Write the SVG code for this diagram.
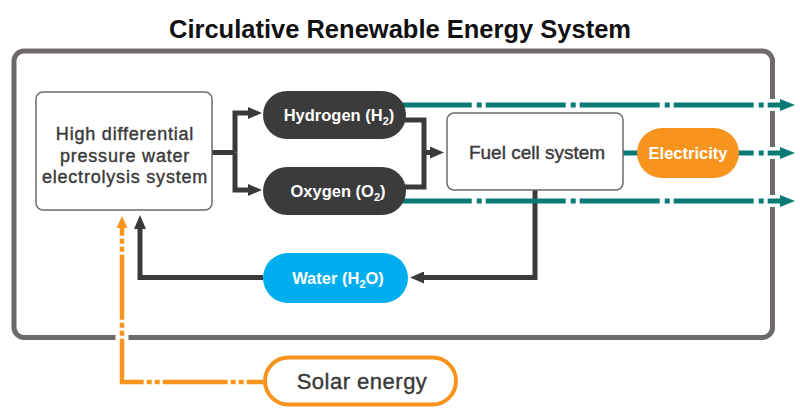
<svg xmlns="http://www.w3.org/2000/svg" width="800" height="420" viewBox="0 0 800 420">
<defs>
<marker id="ah-dark" markerUnits="userSpaceOnUse" markerWidth="14" markerHeight="12" refX="0" refY="6" orient="auto"><path d="M0,0 L14,6 L0,12 Z" fill="#3a3a3a"/></marker>
<marker id="ah-teal" markerUnits="userSpaceOnUse" markerWidth="15" markerHeight="12" refX="0" refY="6" orient="auto"><path d="M0,0 L15,6 L0,12 Z" fill="#0a7a76"/></marker>
<marker id="ah-orange" markerUnits="userSpaceOnUse" markerWidth="12" markerHeight="11" refX="0" refY="5.5" orient="auto"><path d="M0,0 L12,5.5 L0,11 Z" fill="#f7941d"/></marker>
</defs>
<style>
.box{fill:#fff;stroke:#6b6b6b;stroke-width:1.5}
.lbl{font-family:"Liberation Sans",Arial,sans-serif;fill:#3a3a3a;text-anchor:middle;stroke:#3a3a3a;stroke-width:0.4}
.pt{font-family:"Liberation Sans",Arial,sans-serif;font-weight:bold;font-size:16.5px;fill:#fff;text-anchor:middle}
.sub{font-size:11px}
.dark{fill:none;stroke:#3a3a3a;stroke-width:5}
.teal{fill:none;stroke:#0a7a76;stroke-width:5;stroke-dasharray:80 5 5 4}
.orange{fill:none;stroke:#f7941d;stroke-width:4.5;stroke-dasharray:65 3 5 3 5 3}
.halo{fill:#fff}
</style>
<rect width="800" height="420" fill="#fff"/>
<text x="400" y="38" font-family="'Liberation Sans',Arial,sans-serif" font-weight="bold" font-size="25.5" fill="#111" text-anchor="middle">Circulative Renewable Energy System</text>
<g id="frame">
<rect x="14" y="51" width="758.5" height="286.5" rx="10" fill="none" stroke="#6e6a6a" stroke-width="5"/>
<rect class="halo" x="768" y="99" width="9" height="12"/>
<rect class="halo" x="768" y="147" width="9" height="12"/>
<rect class="halo" x="768" y="195" width="9" height="12"/>
<rect class="halo" x="115.5" y="333" width="13" height="9"/>
</g>
<g id="connectors">
<path class="dark" d="M212 152.5 H235"/>
<path class="dark" d="M235 152.5 V113 H248" marker-end="url(#ah-dark)"/>
<path class="dark" d="M235 152.5 V190 H248" marker-end="url(#ah-dark)"/>
<path class="dark" d="M400 120 H424 V187 H400"/>
<path class="dark" d="M424 152.5 H430" marker-end="url(#ah-dark)"/>
<path class="dark" d="M535 190 V277.5 H424" marker-end="url(#ah-dark)"/>
<path class="dark" d="M263 277.5 H140 V229" marker-end="url(#ah-dark)"/>
<path class="teal" d="M395 105 H780" stroke-dashoffset="3.3" marker-end="url(#ah-teal)"/>
<path class="teal" d="M395 201 H780" stroke-dashoffset="3.3" marker-end="url(#ah-teal)"/>
<path class="teal" d="M623 153 H780" stroke-dashoffset="43.3" marker-end="url(#ah-teal)"/>
<path class="orange" d="M263 382 H122 V228" stroke-dashoffset="48.7" marker-end="url(#ah-orange)"/>
</g>
<g id="electrolysis">
<rect class="box" x="36" y="92" width="176" height="118" rx="7"/>
<text class="lbl" font-size="18" letter-spacing="0.8"><tspan x="125" y="140">High differential</tspan><tspan x="125" y="161.7">pressure water</tspan><tspan x="125" y="183.3">electrolysis system</tspan></text>
</g>
<g id="hydrogen">
<rect x="263" y="91" width="143" height="48" rx="24" fill="#3b3b3b"/>
<text class="pt" x="339" y="121">Hydrogen (H<tspan class="sub" dy="4">2</tspan><tspan dy="-4">)</tspan></text>
</g>
<g id="oxygen">
<rect x="263" y="167" width="143" height="48" rx="24" fill="#3b3b3b"/>
<text class="pt" x="338" y="197">Oxygen (O<tspan class="sub" dy="4">2</tspan><tspan dy="-4">)</tspan></text>
</g>
<g id="fuelcell">
<rect class="box" x="447" y="113" width="176" height="77" rx="7"/>
<text class="lbl" x="537" y="159" font-size="19">Fuel cell system</text>
</g>
<g id="electricity">
<rect x="637" y="128" width="102" height="50" rx="25" fill="#f7941d"/>
<text class="pt" x="688" y="158.5">Electricity</text>
</g>
<g id="water">
<rect x="263" y="253" width="145" height="50" rx="25" fill="#00aeef"/>
<text class="pt" x="338" y="283.5">Water (H<tspan class="sub" dy="4">2</tspan><tspan dy="-4">O)</tspan></text>
</g>
<g id="solar">
<rect x="265" y="357.5" width="191" height="47" rx="23.5" fill="#fff" stroke="#f7941d" stroke-width="4"/>
<text class="lbl" x="362" y="389" font-size="22" letter-spacing="0.5" fill="#333">Solar energy</text>
</g>
</svg>
